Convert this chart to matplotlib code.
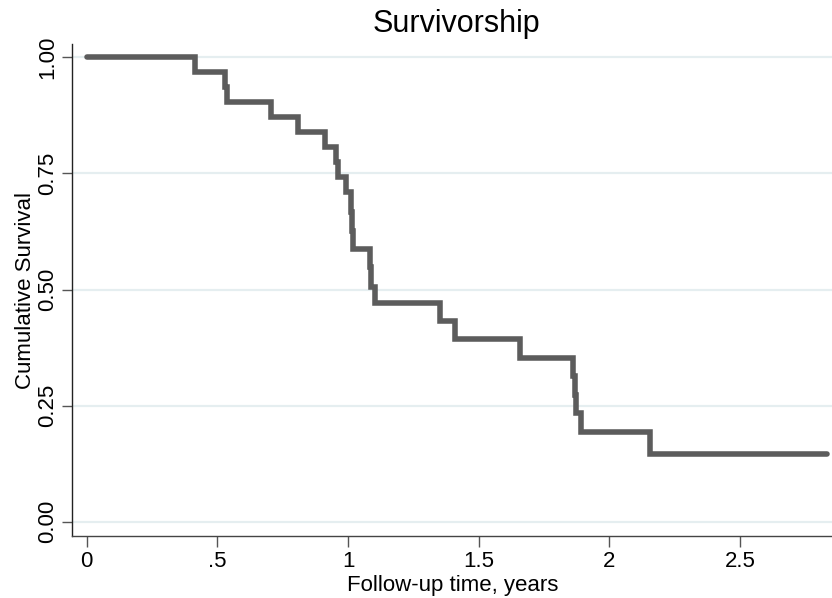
import matplotlib
matplotlib.use("Agg")
import matplotlib.pyplot as plt

# Kaplan-Meier estimate: follow-up time (years) and survival after each step
times = [0.0, 0.413, 0.528, 0.535, 0.707, 0.810, 0.910, 0.953, 0.960, 0.993,
         1.012, 1.016, 1.020, 1.083, 1.087, 1.105, 1.350, 1.411, 1.658,
         1.861, 1.868, 1.874, 1.893, 2.154, 2.833]
survival = [1.000, 0.968, 0.935, 0.903, 0.871, 0.839, 0.806, 0.774, 0.742, 0.710,
            0.667, 0.627, 0.587, 0.549, 0.506, 0.471, 0.432, 0.393, 0.353,
            0.314, 0.273, 0.234, 0.193, 0.146, 0.146]

x_ticks = [0, 0.5, 1, 1.5, 2, 2.5]
x_tick_labels = ["0", ".5", "1", "1.5", "2", "2.5"]
y_ticks = [0.0, 0.25, 0.5, 0.75, 1.0]
y_tick_labels = ["0.00", "0.25", "0.50", "0.75", "1.00"]

plt.rcParams["font.family"] = ["Liberation Sans", "DejaVu Sans"]

fig = plt.figure(figsize=(8.32, 5.98), dpi=100)
ax = fig.add_axes([0.0870, 0.1040, 0.9130, 0.8220])

for y in y_ticks:
    ax.axhline(y, color="#e5eef0", lw=1.6, zorder=1)

ax.plot(times, survival, drawstyle="steps-post", color="#5c5c5c", lw=4.0,
        solid_joinstyle="miter", solid_capstyle="round", zorder=3)

ax.set_xlim(-0.055, 2.852)
ax.set_ylim(-0.030, 1.028)

ax.set_xticks(x_ticks)
ax.set_xticklabels(x_tick_labels)
ax.set_yticks(y_ticks)
ax.set_yticklabels(y_tick_labels, rotation=90, va="center")

ax.tick_params(axis="x", direction="out", length=8, width=1, color="#555555",
               labelsize=16, pad=3)
ax.tick_params(axis="y", direction="out", length=7, width=1, color="#555555",
               labelsize=16, pad=3)

for side in ("top", "right"):
    ax.spines[side].set_visible(False)
ax.spines["left"].set_color("#222222")
ax.spines["bottom"].set_color("#444444")
ax.spines["left"].set_linewidth(1.0)
ax.spines["bottom"].set_linewidth(1.0)

ax.set_xlabel("Follow-up time, years", fontsize=16, labelpad=2)
ax.set_ylabel("Cumulative Survival", fontsize=16, labelpad=1)
fig.text(0.549, 0.960, "Survivorship", ha="center", va="center", fontsize=22)

fig.savefig("out.png", dpi=100, facecolor="white")
